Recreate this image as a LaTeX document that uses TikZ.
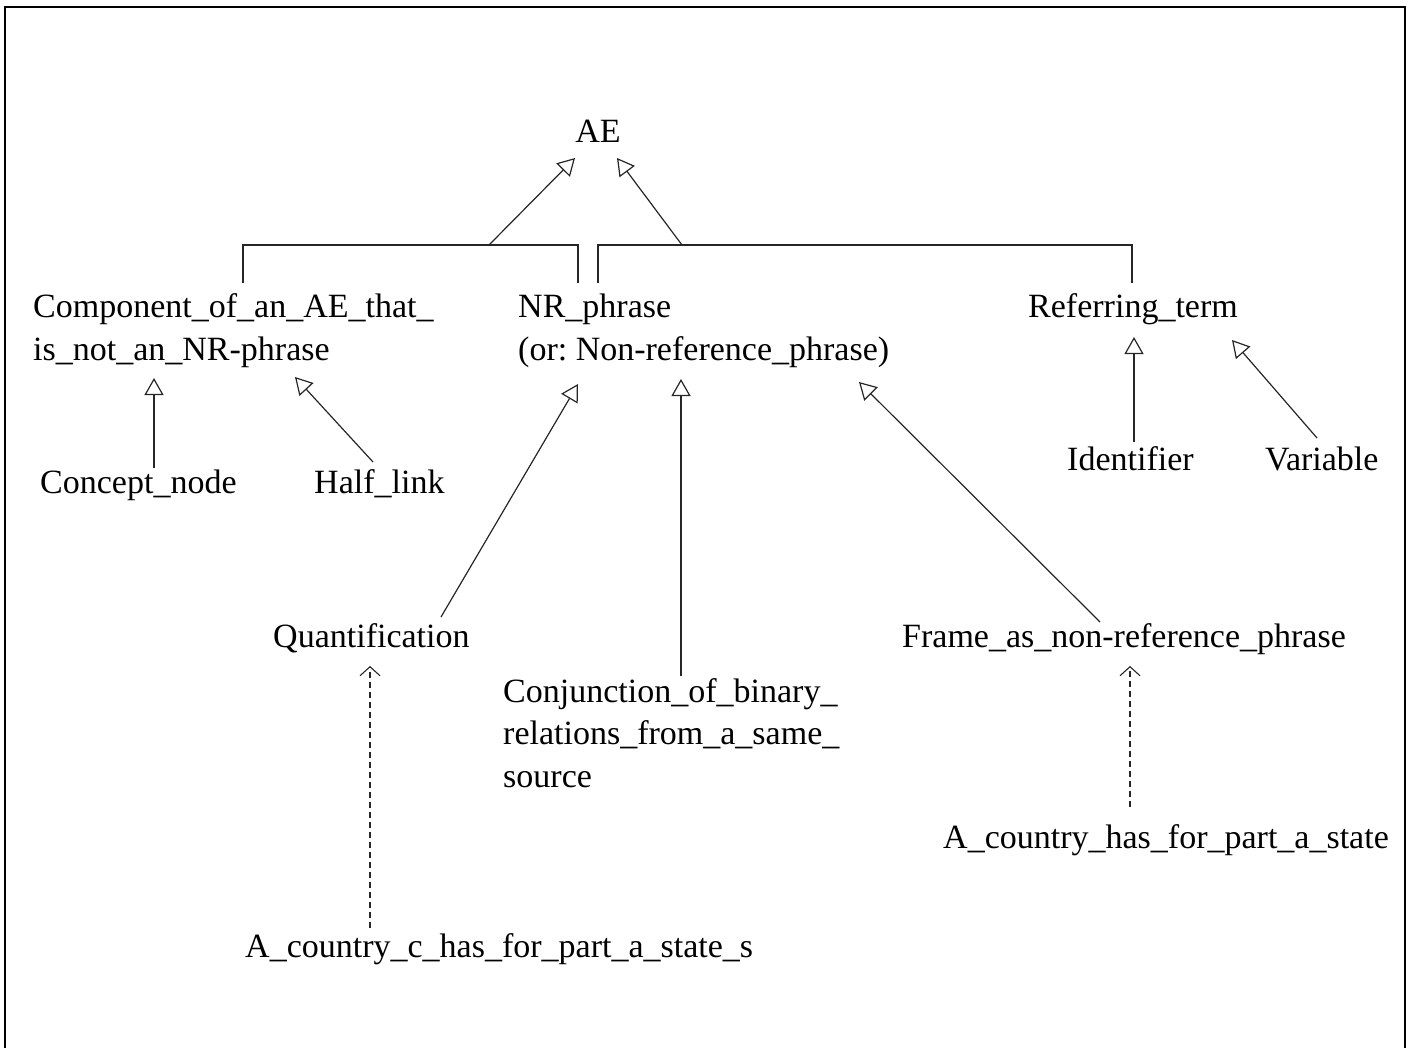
\documentclass[tikz,border=0pt]{standalone}
\usepackage{fontspec}
\setmainfont{Liberation Serif}
\usetikzlibrary{arrows.meta}
\frenchspacing
\begin{document}
\begin{tikzpicture}[x=1pt,y=-1pt,
  lbl/.style={inner sep=0pt, anchor=base west, align=left,
    font=\fontsize{34}{42.5}\selectfont},
  isa/.style={line width=1.2pt, draw=black!85,
    -{Triangle[open, length=17pt, width=19pt, line width=1.2pt]}},
  inst/.style={line width=1.1pt, draw=black!85, dash pattern=on 6pt off 4pt,
    -{Straight Barb[length=9pt, width=20pt, line width=1.1pt]}},
  link/.style={line width=1.2pt, draw=black!85},
  frame/.style={line width=2.6pt, draw=black}]
\useasboundingbox (0,0) rectangle (1412,1048);

% open frame around the hierarchy
\draw[frame] (5,1060) -- (5,7) -- (1405,7) -- (1405,1060);

% concept nodes (multi-line labels are placed by the baseline of their last line)
\node[lbl, anchor=base] (ae) at (598,143) {AE};
\node[lbl] (comp) at (33,360)
  {Component\_of\_an\_AE\_that\_\\is\_not\_an\_NR-phrase};
\node[lbl] (nr) at (518,360)
  {NR\_phrase\\(or: Non-reference\_phrase)};
\node[lbl] (ref) at (1028,317) {Referring\_term};
\node[lbl] (concept) at (40,493) {Concept\_node};
\node[lbl] (half) at (314,493) {Half\_link};
\node[lbl] (ident) at (1067,470) {Identifier};
\node[lbl] (var) at (1265,470) {Variable};
\node[lbl] (quant) at (273,647) {Quantification};
\node[lbl] (conj) at (503,787)
  {Conjunction\_of\_binary\_\\relations\_from\_a\_same\_\\source};
\node[lbl] (frm) at (902,647) {Frame\_as\_non-reference\_phrase};
\node[lbl] (cs) at (943,848) {A\_country\_has\_for\_part\_a\_state};
\node[lbl] (ccs) at (245,957) {A\_country\_c\_has\_for\_part\_a\_state\_s};

% connector end points
\coordinate (ae-l) at (575,158);
\coordinate (ae-r) at (617,158);
\coordinate (brl-a) at (243,283);
\coordinate (brl-b) at (243,245);
\coordinate (brl-m) at (489,245);
\coordinate (brl-c) at (578,245);
\coordinate (brl-d) at (578,283);
\coordinate (brr-a) at (598,283);
\coordinate (brr-b) at (598,245);
\coordinate (brr-m) at (682,245);
\coordinate (brr-c) at (1132,245);
\coordinate (brr-d) at (1132,283);
\coordinate (comp-a) at (154,378);
\coordinate (comp-b) at (295,377);
\coordinate (concept-t) at (154,468);
\coordinate (half-t) at (373,462);
\coordinate (ref-a) at (1134,337);
\coordinate (ref-b) at (1232,340);
\coordinate (ident-t) at (1134,442);
\coordinate (var-t) at (1317,438);
\coordinate (nr-a) at (578,384);
\coordinate (nr-b) at (681,379);
\coordinate (nr-c) at (859,382);
\coordinate (quant-t) at (441,617);
\coordinate (quant-b) at (370,666);
\coordinate (conj-t) at (681,676);
\coordinate (frm-t) at (1100,622);
\coordinate (frm-b) at (1130,666);
\coordinate (cs-t) at (1130,807);
\coordinate (ccs-t) at (370,928);

% brackets joining the first-level concepts
\draw[link] (brl-a) -- (brl-b) -- (brl-c) -- (brl-d);
\draw[link] (brr-a) -- (brr-b) -- (brr-c) -- (brr-d);

% subtype links
\draw[isa] (brl-m) -- (ae-l);
\draw[isa] (brr-m) -- (ae-r);
\draw[isa] (concept-t) -- (comp-a);
\draw[isa] (half-t) -- (comp-b);
\draw[isa] (ident-t) -- (ref-a);
\draw[isa] (var-t) -- (ref-b);
\draw[isa] (quant-t) -- (nr-a);
\draw[isa] (conj-t) -- (nr-b);
\draw[isa] (frm-t) -- (nr-c);

% instance links
\draw[inst] (ccs-t) -- (quant-b);
\draw[inst] (cs-t) -- (frm-b);
\end{tikzpicture}
\end{document}
